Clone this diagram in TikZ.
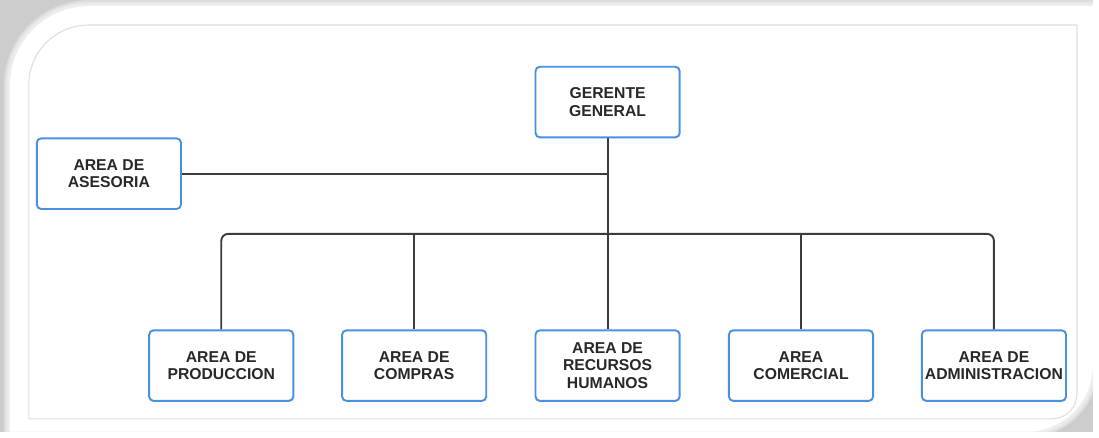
\documentclass[tikz,border=0pt]{standalone}
\usepackage{fontspec}
\setmainfont{Liberation Sans}
\usepackage{tikz}

\definecolor{boxblue}{RGB}{74,144,226}
\definecolor{linegray}{RGB}{60,60,60}
\definecolor{txtgray}{RGB}{40,40,40}
\definecolor{shadegray}{RGB}{205,205,205}
\definecolor{framegray}{RGB}{222,222,222}

\begin{document}
\begin{tikzpicture}[x=0.02cm,y=0.02cm,
  area/.style={draw=boxblue,line width=1.1pt,rounded corners=2.5pt,fill=white,
    minimum width=2.9cm,minimum height=1.42cm,inner sep=1pt,align=center,
    text=txtgray,font=\fontsize{9}{10.2}\selectfont\bfseries},
  link/.style={draw=linegray,line width=1.1pt}]
%\draw [thick,red,dashed] (0,0) rectangle (1099,434);

% frame
\fill[shadegray] (0,0) rectangle (1099,434);
\foreach \w in {7,5,3}
  \draw[white,opacity=0.3,line width=\w pt] (10,0) -- (10,348) arc[start angle=180,end angle=90,radius=80]
    -- (1099,428) -- (1099,67) arc[start angle=0,end angle=-90,radius=67] -- cycle;
\fill[white] (10,0) -- (10,348) arc[start angle=180,end angle=90,radius=80]
    -- (1099,428) -- (1099,67) arc[start angle=0,end angle=-90,radius=67] -- cycle;
\draw[framegray,line width=0.6pt] (29,13) -- (29,349) arc[start angle=180,end angle=90,radius=60]
    -- (1083,409) -- (1083,38) arc[start angle=0,end angle=-90,radius=25] -- cycle;

\node [area] (ger) at(611,331.5){GERENTE\\GENERAL};
\node [area] (ase) at(109.5,259.5){AREA DE\\ASESORIA};

\node [area] (prod) at(222.5,66.5){AREA DE\\PRODUCCION};
\node [area] (comp) at(416.5,66.5){AREA DE\\COMPRAS};
\node [area] (rrhh) at(611,66.5){AREA DE\\RECURSOS\\HUMANOS};
\node [area] (come) at(805.5,66.5){AREA\\COMERCIAL};
\node [area] (admi) at(999.5,66.5){AREA DE\\ADMINISTRACION};

\coordinate (hub) at(611,199);
\draw[link](ger) -- (hub) -- (rrhh);
\draw[link](ase) -- (ase -| ger);
\draw[link,rounded corners=4pt](prod) |- (hub) -| (admi);
\draw[link](hub) -| (comp);
\draw[link](hub) -| (come);
\end{tikzpicture}
\end{document}
